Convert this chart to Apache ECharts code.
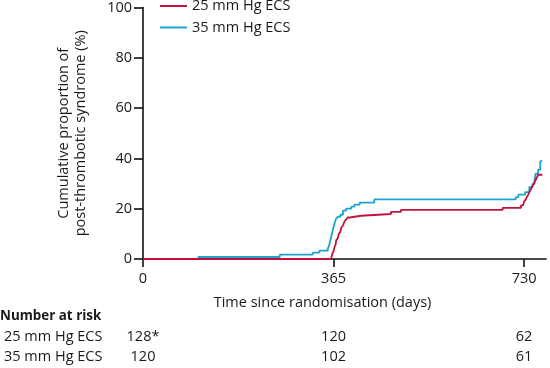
<!DOCTYPE html>
<html>
<head>
<meta charset="utf-8">
<script src="https://cdn.jsdelivr.net/npm/echarts@6/dist/echarts.min.js"></script>
<style>
html,body{margin:0;padding:0;background:#fff;}
#c{width:550px;height:368px;}
</style>
</head>
<body>
<div id="c"></div>
<script>
// ---- data ----
var seriesNames = ['25 mm Hg ECS', '35 mm Hg ECS'];
var days25 = [0, 361, 363, 365, 367, 369, 370, 373, 375, 378, 380, 383, 386, 389, 392, 396, 418, 475, 494, 689, 724, 728, 730, 733, 735, 738, 740, 743, 745, 748, 751, 754, 757, 765];
var pct25  = [0, 0.8, 2.3, 3.1, 4.9, 5.7, 7.4, 8.2, 10.0, 10.8, 12.5, 13.3, 14.9, 15.7, 16.5, 17.2, 17.9, 18.7, 19.5, 20.3, 21.3, 22.0, 22.8, 23.6, 24.5, 25.6, 26.6, 27.6, 28.6, 29.6, 31.0, 32.2, 33.5, 33.5];
var days35 = [0, 106, 262, 325, 338, 354, 356, 358, 360, 362, 364, 366, 368, 370, 373, 378, 383, 389, 399, 405, 415, 443, 714, 719, 732, 740, 746, 750, 752, 757, 761, 765];
var pct35  = [0, 0.8, 1.7, 2.5, 3.3, 4.2, 5.0, 6.7, 8.4, 10.0, 11.7, 13.4, 15.0, 16.0, 16.8, 17.6, 19.2, 20.0, 20.8, 21.6, 22.4, 23.7, 24.6, 25.6, 26.6, 28.6, 29.9, 31.5, 33.9, 35.5, 38.9, 38.9];
var xTicks = [0, 365, 730];
var yTicks = [0, 20, 40, 60, 80, 100];
var riskRowLabels = ['25 mm Hg ECS', '35 mm Hg ECS'];
var risk25 = ['128*', '120', '62'];
var risk35 = ['120', '102', '61'];

var colors = ['#c4123d', '#1ea3cb'];
var FONT = 'Open Sans';
var TXT = '#1a1a1a';

function pairs(xs, ys) { return xs.map(function (x, i) { return [x, ys[i]]; }); }

var chart = echarts.init(document.getElementById('c'), null, {renderer: 'canvas'});
var option = {
  animation: false,
  textStyle: {fontFamily: FONT},
  grid: {left: 143, right: 4, top: 6, bottom: 109, containLabel: false},
  legend: {
    left: 160, top: -1.5, padding: 0, orient: 'vertical', icon: 'rect',
    itemWidth: 27, itemHeight: 2, itemGap: 6.5,
    textStyle: {fontFamily: FONT, fontSize: 14.5, color: TXT},
    data: seriesNames
  },
  xAxis: {
    type: 'value', min: 0, max: 772,
    axisLine: {show: true, onZero: false, lineStyle: {color: '#111', width: 1.6}},
    axisTick: {show: true, inside: false, length: 8, customValues: xTicks, lineStyle: {color: '#111', width: 1.6}},
    axisLabel: {customValues: xTicks, fontFamily: FONT, fontSize: 14.5, color: TXT, margin: 12},
    splitLine: {show: false}
  },
  yAxis: {
    type: 'value', min: 0, max: 100, interval: 20,
    name: 'Cumulative proportion of\npost-thrombotic syndrome (%)',
    nameLocation: 'middle', nameGap: 54, nameRotate: 90,
    nameTextStyle: {fontFamily: FONT, fontSize: 14.5, color: TXT, lineHeight: 17},
    axisLine: {show: true, lineStyle: {color: '#111', width: 1.6}},
    axisTick: {show: true, inside: false, length: 9, customValues: yTicks, lineStyle: {color: '#111', width: 1.6}},
    axisLabel: {customValues: yTicks, fontFamily: FONT, fontSize: 14.5, color: TXT, margin: 11},
    splitLine: {show: false}
  },
  series: [
    {name: seriesNames[0], type: 'line', step: 'end', symbol: 'none', data: pairs(days25, pct25),
     lineStyle: {color: colors[0], width: 1.8}, itemStyle: {color: colors[0]}, z: 3},
    {name: seriesNames[1], type: 'line', step: 'end', symbol: 'none', data: pairs(days35, pct35),
     lineStyle: {color: colors[1], width: 1.8}, itemStyle: {color: colors[1]}, z: 2}
  ]
};
chart.setOption(option);

// number-at-risk table and x-axis title, placed via the axis scale
var g = [];
var midX = chart.convertToPixel({xAxisIndex: 0}, 0);
var endX = chart.convertToPixel({xAxisIndex: 0}, 730);
g.push({type: 'text', x: (midX + endX) / 2 - 11, y: 303,
  style: {text: 'Time since randomisation (days)', font: '14.5px "' + FONT + '"', fill: TXT, align: 'center', verticalAlign: 'middle'}});
g.push({type: 'text', x: 0, y: 316,
  style: {text: 'Number at risk', font: 'bold 13.4px "' + FONT + '"', fill: TXT, align: 'left', verticalAlign: 'middle'}});
var rows = [risk25, risk35];
var rowY = [337, 357];
rows.forEach(function (vals, r) {
  g.push({type: 'text', x: 4, y: rowY[r],
    style: {text: riskRowLabels[r], font: '14.5px "' + FONT + '"', fill: TXT, align: 'left', verticalAlign: 'middle'}});
  vals.forEach(function (v, i) {
    var px = chart.convertToPixel({xAxisIndex: 0}, xTicks[i]);
    g.push({type: 'text', x: px, y: rowY[r],
      style: {text: v, font: '14.5px "' + FONT + '"', fill: TXT, align: 'center', verticalAlign: 'middle'}});
  });
});
chart.setOption({graphic: g});
</script>
</body>
</html>
